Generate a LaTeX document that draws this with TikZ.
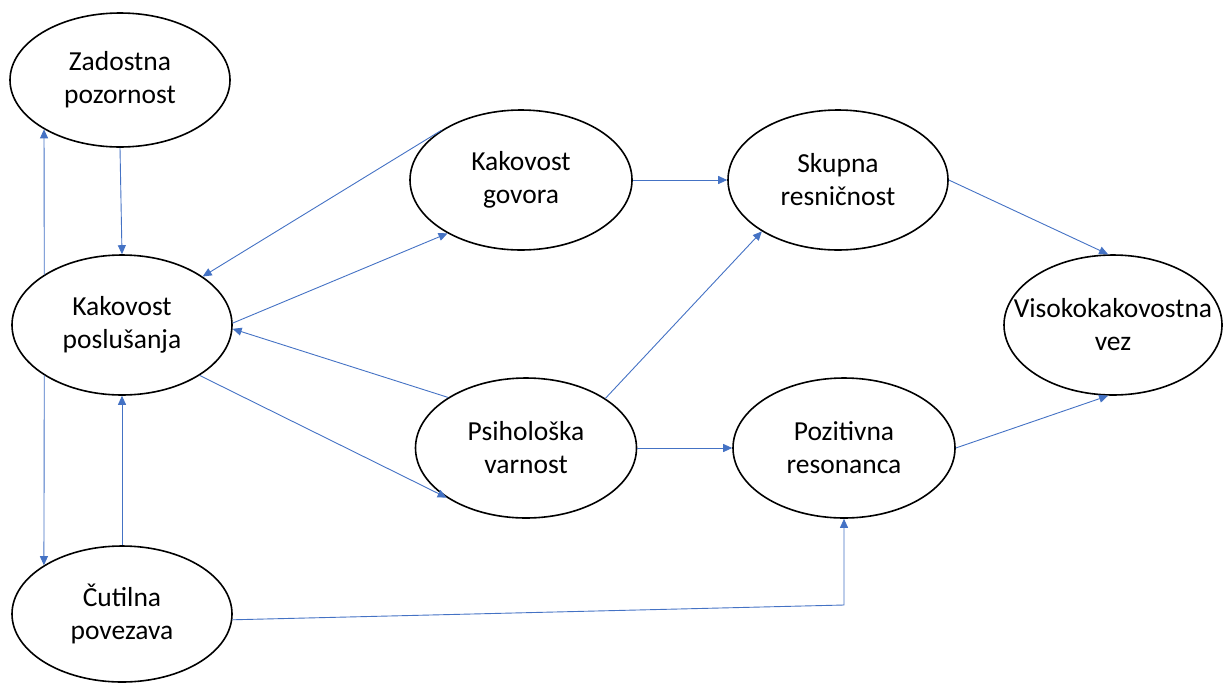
\documentclass[tikz,border=0pt]{standalone}
\usepackage{fontspec}
\setmainfont{Carlito}
\usetikzlibrary{shapes.geometric,arrows.meta}
\definecolor{modra}{HTML}{4472C4}
\begin{document}
\begin{tikzpicture}[
    x=1pt, y=-1pt,
    font=\fontsize{27.5}{33}\selectfont,
    elipsa/.style={ellipse, draw=black, line width=1.6pt, inner sep=0pt,
      minimum width=220pt, minimum height=140pt, align=center},
    puscica/.style={modra, line width=0.9pt,
      -{Triangle[length=9pt, width=8pt]}},
  ]
  \useasboundingbox (0,0) rectangle (1225,686);

  % --- elipse ---------------------------------------------------------
  \node[elipsa, minimum height=134pt] (zad)  at (120,80)  {Zadostna\\pozornost};
  \node[elipsa]                       (posl) at (122,325) {Kakovost\\poslušanja};
  \node[elipsa, minimum height=136pt] (cut)  at (122,614) {Čutilna\\povezava};
  \node[elipsa, minimum width=222pt]  (gov)  at (521,180) {Kakovost\\govora};
  \node[elipsa]                       (skup) at (838,180) {Skupna\\resničnost};
  \node[elipsa, minimum width=221pt]  (psih) at (526,448) {Psihološka\\varnost};
  \node[elipsa, minimum width=222pt]  (poz)  at (844,448) {Pozitivna\\resonanca};
  \node[elipsa, minimum width=218pt]  (vis)  at (1113,325)
    {\makebox[0pt]{Visokokakovostna}\\vez};

  % --- leva stran: navpicne povezave ----------------------------------
  \draw[puscica] (posl.147) -- (zad.213);
  \draw[puscica] (zad.south) -- (posl.north);
  \draw[puscica] (posl.213) -- (cut.148);
  \draw[puscica] (cut.north) -- (posl.south);

  % --- posl <-> gov, psih ---------------------------------------------
  \draw[puscica] (gov.148) -- (posl.31);
  \draw[puscica] (posl.1) -- (gov.216);
  \draw[puscica] (psih.147) -- (posl.-2);
  \draw[puscica] (posl.-33) -- (psih.212);

  % --- srednji del ----------------------------------------------------
  \draw[puscica] (gov.east) -- (skup.west);
  \draw[puscica] (psih.32) -- (skup.214);
  \draw[puscica] (psih.east) -- (poz.west);

  % --- proti visokokakovostni vezi ------------------------------------
  \draw[puscica] (skup.east) -- (vis.94);
  \draw[puscica] (poz.east) -- (vis.266);

  % --- cutilna povezava -> pozitivna resonanca ------------------------
  \coordinate (koleno) at (844,605);
  \draw[puscica] (cut.-3) -- (koleno) -- (poz.south);

\end{tikzpicture}
\end{document}
